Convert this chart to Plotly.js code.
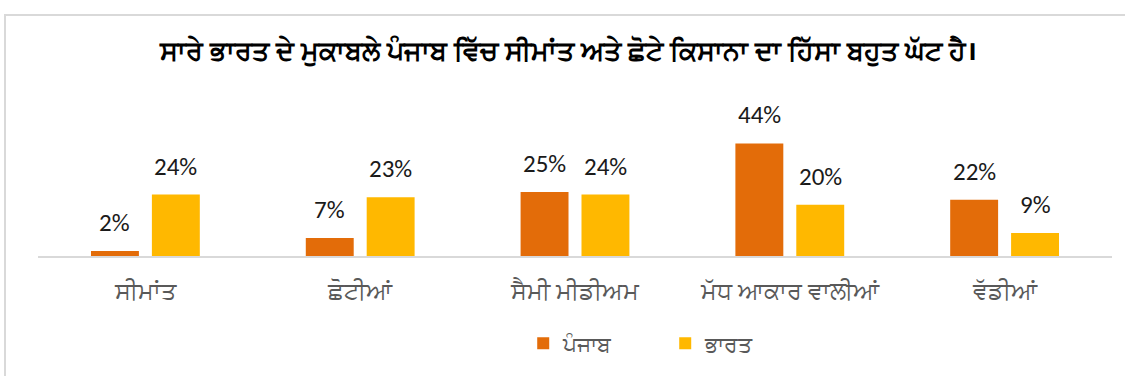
<!DOCTYPE html>
<html>
<head>
<meta charset="utf-8">
<script src="https://cdn.plot.ly/plotly-3.0.1.min.js"></script>
<style>
html,body{margin:0;padding:0;background:#fff;}
#wrap{position:relative;width:1125px;height:376px;overflow:hidden;}
#chart{position:absolute;left:0;top:0;width:1125px;height:376px;}
#frame{position:absolute;left:4px;top:14px;width:1200px;height:400px;border-left:2px solid #d9d9d9;border-top:2px solid #d9d9d9;pointer-events:none;}
</style>
</head>
<body>
<div id="wrap"><div id="chart"></div><div id="frame"></div></div>
<script>
const categories = ["ਸੀਮਾਂਤ", "ਛੋਟੀਆਂ", "ਸੈਮੀ ਮੀਡੀਅਮ", "ਮੱਧ ਆਕਾਰ ਵਾਲੀਆਂ", "ਵੱਡੀਆਂ"];
const seriesNames = ["ਪੰਜਾਬ", "ਭਾਰਤ"];
const punjab = [2, 7, 25, 44, 22];
const india = [24, 23, 24, 20, 9];
const titleText = "ਸਾਰੇ ਭਾਰਤ ਦੇ ਮੁਕਾਬਲੇ ਪੰਜਾਬ ਵਿੱਚ ਸੀਮਾਂਤ ਅਤੇ ਛੋਟੇ ਕਿਸਾਨਾ ਦਾ ਹਿੱਸਾ ਬਹੁਤ ਘੱਟ ਹੈ।";

const fontFam = "'Noto Sans', 'Open Sans', sans-serif";
const labelFont = {family: "Carlito, 'Liberation Sans', Arial, sans-serif", size: 25, color: '#1a1a1a'};
function mk(name, vals, color) {
  return {
    type: 'bar', name: name, x: categories, y: vals,
    marker: {color: color}, hoverinfo: 'skip'
  };
}
const data = [mk(seriesNames[0], punjab, '#E36C09'), mk(seriesNames[1], india, '#FFB800')];
const annotations = [];
[[punjab, -30.5], [india, 30.5]].forEach(([vals, dx]) => {
  vals.forEach((v, i) => annotations.push({
    x: categories[i], y: v, xref: 'x', yref: 'y', text: v + '%', showarrow: false,
    xanchor: 'center', yanchor: 'bottom', xshift: dx, yshift: 11, font: labelFont
  }));
});
const layout = {
  width: 1125, height: 376,
  margin: {l: 38, r: 13, t: 100, b: 118},
  paper_bgcolor: '#fff', plot_bgcolor: '#fff',
  title: {text: '<b>' + titleText + '</b>', x: 0.505, xanchor: 'center', y: 0.865, yanchor: 'middle',
          font: {family: fontFam, size: 27, color: '#000'}},
  barmode: 'group', bargap: 0.433, bargroupgap: 0.213,
  xaxis: {showline: true, linecolor: '#d9d9d9', linewidth: 2, ticks: '', showgrid: false,
          ticklabelstandoff: 12,
          tickfont: {family: fontFam, size: 24, color: '#595959'}},
  yaxis: {range: [0, 61], visible: false, showgrid: false, zeroline: false},
  annotations: annotations,
  showlegend: true,
  legend: {orientation: 'h', x: 0.584, xanchor: 'center', y: -0.56, yanchor: 'middle',
           entrywidth: 97, entrywidthmode: 'pixels',
           font: {family: fontFam, size: 22, color: '#595959'}, itemwidth: 30, traceorder: 'normal'}
};
Plotly.newPlot('chart', data, layout, {staticPlot: true, displayModeBar: false});
</script>
</body>
</html>
